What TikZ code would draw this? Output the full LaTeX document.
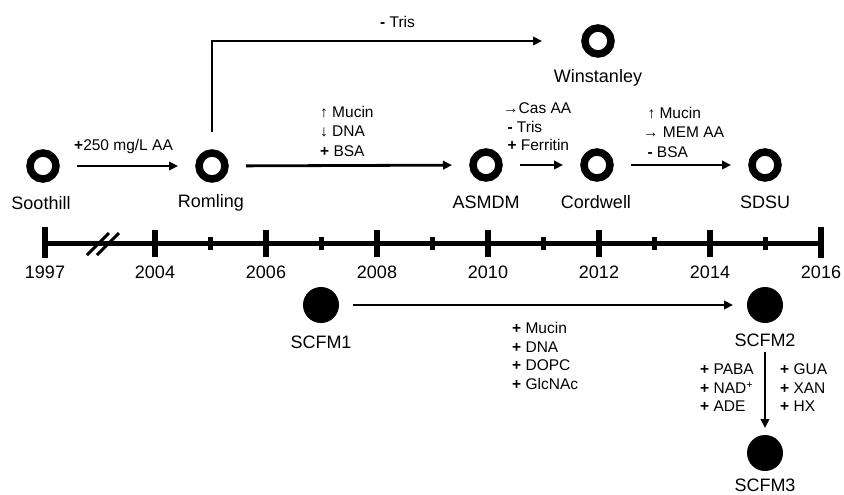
\documentclass[tikz,border=0pt]{standalone}
\usepackage{fontspec}
\setmainfont{Liberation Sans}
\usetikzlibrary{arrows.meta}
\begin{document}
\begin{tikzpicture}[x=1pt,y=-1pt,
  ocirc/.style={circle,draw,line width=7.5pt,minimum size=26pt,inner sep=0pt,outer sep=21pt},
  fcirc/.style={circle,fill,minimum size=36pt,inner sep=0pt,outer sep=14pt},
  nm/.style={font=\fontsize{18}{20}\selectfont,inner sep=0pt},
  yr/.style={font=\fontsize{18}{20}\selectfont,inner sep=0pt},
  lbl/.style={font=\fontsize{15.5}{18.5}\selectfont,align=left,anchor=west,inner sep=0pt},
  conn/.style={line width=2.8pt,-{Triangle[length=9pt,width=8.5pt]}},
  axisline/.style={line width=5pt},
  majtick/.style={line width=6pt},
  mintick/.style={line width=5.5pt},
]
\useasboundingbox (0,0) rectangle (844,495);
\newcommand{\pl}{{\bfseries +}}
\newcommand{\mi}{{\bfseries -}}
% open circles
\node[ocirc] (soot) at (43,166) {};
\node[ocirc] (rom) at (212,166) {};
\node[ocirc] (win) at (598,41) {};
\node[ocirc] (asm) at (486,165) {};
\node[ocirc] (cord) at (597,165) {};
\node[ocirc] (sdsu) at (765,165) {};
% filled circles
\node[fcirc] (s1) at (321,305) {};
\node[fcirc] (s2) at (765,305) {};
\node[fcirc] (s3) at (765,453) {};
% names
\node[nm] (sootl) at (41,203) {Soothill};
\node[nm] (roml) at (211,203) {Romling};
\node[nm] (winl) at (598,78) {Winstanley};
\node[nm] (asml) at (486,202) {ASMDM};
\node[nm] (cordl) at (596,202) {Cordwell};
\node[nm] (sdsul) at (765,202) {SDSU};
\node[nm] (s1l) at (321,342) {SCFM1};
\node[nm] (s2l) at (765,340) {SCFM2};
\node[nm] (s3l) at (765,485) {SCFM3};
% connectors
\draw[conn] (soot) -- (rom);
\draw[conn,shorten >=22pt] (rom.north) |- (win.west);
\draw[conn] (rom) -- (asm);
\draw[conn] (asm) -- (cord);
\draw[conn] (cord) -- (sdsu);
\draw[conn] (s1) -- (s2);
\draw[conn,shorten <=5pt,shorten >=-7pt] (s2l.south) -- (s3.north);
% connector labels
\node[lbl] (l1) at (74,146) {\pl250 mg/L AA};
\node[lbl] (l2) at (380,22) {\mi\ Tris};
\node[lbl,font=\fontsize{15.5}{19.5}\selectfont] (l3) at (320,131) {↑ Mucin\\↓ DNA\\\pl\ BSA};
\node[lbl] (l4) at (503,127) {→Cas AA\\\ \mi\ Tris\\\ \pl\ Ferritin};
\node[lbl,font=\fontsize{15.5}{19.5}\selectfont] (l5) at (643,132) {\ ↑ Mucin\\→ MEM AA\\\ \mi\ BSA};
\node[lbl,font=\fontsize{15.5}{18.8}\selectfont] (l6) at (512,356) {\pl\ Mucin\\\pl\ DNA\\\pl\ DOPC\\\pl\ GlcNAc};
\node[lbl] (l7) at (700,388) {\pl\ PABA\\\pl\ NAD\textsuperscript{+}\\\pl\ ADE};
\node[lbl] (l8) at (780,388) {\pl\ GUA\\\pl\ XAN\\\pl\ HX};
% timeline
\draw[axisline] (45,243) -- (821,243);
\draw[majtick] (45,227) -- (45,258);
\draw[majtick] (821,227) -- (821,258);
\foreach \yy in {2004,2006,...,2014} {
  \draw[majtick] ({155+(\yy-2004)*55.5},230) -- ({155+(\yy-2004)*55.5},257);
}
\foreach \yy in {2005,2007,...,2015} {
  \draw[mintick] ({155+(\yy-2004)*55.5},237) -- ({155+(\yy-2004)*55.5},250);
}
\draw[line width=3pt] (87,255) -- (109,233);
\draw[line width=3pt] (97,255) -- (119,233);
\node[yr] (y1997) at (45,272) {1997};
\foreach \yy in {2004,2006,...,2016} {
  \node[yr] (y\yy) at ({155+(\yy-2004)*55.5},272) {\yy};
}
\end{tikzpicture}
\end{document}
